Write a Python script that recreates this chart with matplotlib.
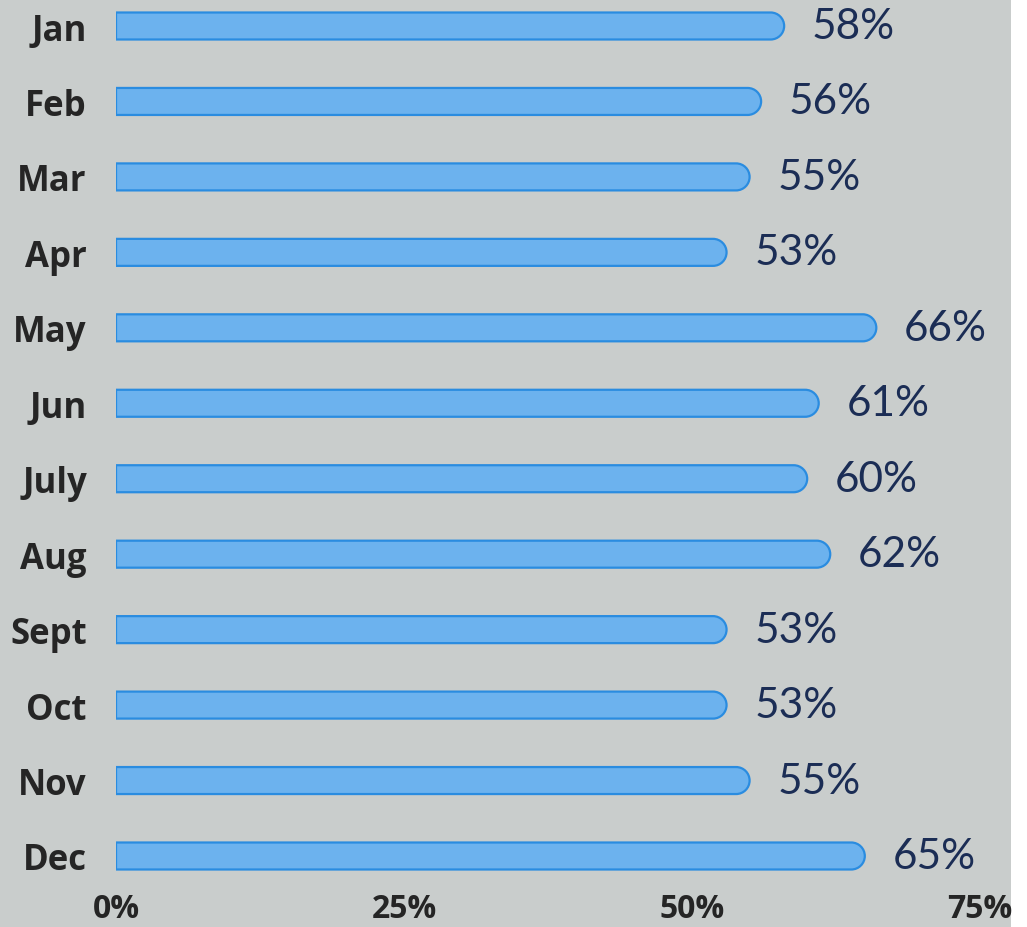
import numpy as np
import matplotlib
matplotlib.use("Agg")
import matplotlib.pyplot as plt
from matplotlib.path import Path
from matplotlib.patches import PathPatch, Rectangle

months = ['Jan', 'Feb', 'Mar', 'Apr', 'May', 'Jun', 'July', 'Aug', 'Sept', 'Oct', 'Nov', 'Dec']
values = [58, 56, 55, 53, 66, 61, 60, 62, 53, 53, 55, 65]
xticks = [0, 25, 50, 75]
xtick_labels = ['0%', '25%', '50%', '75%']

bg = '#c9cdcc'
bar_fill = '#6cb2ee'
bar_edge = '#2a8ce0'
num_color = '#1b2d55'
month_color = '#252525'

W, H, DPI = 10.27, 9.28, 100
fig = plt.figure(figsize=(W, H), dpi=DPI, facecolor=bg)

# axes placed in pixels: x=0 at 116px, 75% at 980px; Jan centre 27px, Dec centre 857px
left_px, right_px, top_px, bot_px = 116, 980, 0, 892
ax = fig.add_axes([left_px / (W * DPI), 1 - bot_px / (H * DPI),
                   (right_px - left_px) / (W * DPI), (bot_px - top_px) / (H * DPI)])
ax.patch.set_visible(False)

y_per_px = 11 / 830
ax.set_xlim(0, 75)
ax.set_ylim((bot_px - 27) * y_per_px, -27 * y_per_px)

px_per_x = (right_px - left_px) / 75.0
bar_h = 27 * y_per_px
hh = bar_h / 2
rx = 13.5 / px_per_x
k = 0.5523

# bars with square left end and a rounded right end
for i, v in enumerate(values):
    cx = v - rx
    verts = [(0, i - hh), (cx, i - hh),
             (cx + k * rx, i - hh), (v, i - k * hh), (v, i),
             (v, i + k * hh), (cx + k * rx, i + hh), (cx, i + hh),
             (0, i + hh), (0, i - hh)]
    codes = [Path.MOVETO, Path.LINETO,
             Path.CURVE4, Path.CURVE4, Path.CURVE4,
             Path.CURVE4, Path.CURVE4, Path.CURVE4,
             Path.LINETO, Path.CLOSEPOLY]
    ax.add_patch(PathPatch(Path(verts, codes), facecolor=bar_fill,
                           edgecolor=bar_edge, linewidth=1.6))
    ax.text(v + 2.4, i, f'{v}%', va='center', ha='left', fontsize=30.5,
            family='Lato', color=num_color)

ax.set_yticks(range(len(months)))
ax.set_yticklabels(months, fontsize=25, fontweight='bold', family='Open Sans',
                   color=month_color)
ax.set_xticks(xticks)
ax.set_xticklabels(xtick_labels, fontsize=23, fontweight='bold', family='Open Sans',
                   color=month_color)
ax.tick_params(axis='y', length=0, pad=21)
ax.tick_params(axis='x', length=0, pad=1)
for s in ax.spines.values():
    s.set_visible(False)

# white margin at the right edge of the page
fig.patches.append(Rectangle((1011 / (W * DPI), 0), 1, 1, transform=fig.transFigure,
                             facecolor='white', edgecolor='none', zorder=-1))

fig.savefig('out.png', dpi=DPI, facecolor=bg)
